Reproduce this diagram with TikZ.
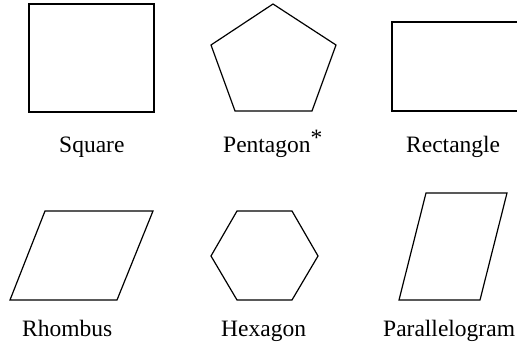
\documentclass[tikz,border=0pt]{standalone}
\usepackage{fontspec}
\setmainfont{Liberation Serif}
\begin{document}
\begin{tikzpicture}[x=1pt,y=-1pt,
  shape line/.style={draw=black,line width=1.2pt,line join=miter},
  lbl/.style={inner sep=0pt,anchor=base west,font=\fontsize{23.5pt}{28pt}\selectfont}]
\useasboundingbox (0,0) rectangle (517,347);
% Square
\draw[shape line] (29,4) rectangle (154,112);
\node[lbl] (sq) at (59,153) {Square};
% Pentagon
\draw[shape line] (273,4) -- (336,45) -- (312,111) -- (235,111) -- (211,45) -- cycle;
\node[lbl] (pe) at (223,153) {Pentagon\raisebox{7pt}{*}};
% Rectangle
\draw[shape line] (392,22) rectangle (518,111);
\node[lbl] (re) at (406,153) {Rectangle};
% Rhombus
\draw[shape line] (45,211) -- (153,211) -- (117,300) -- (10,300) -- cycle;
\node[lbl] (rh) at (22,337) {Rhombus};
% Hexagon
\draw[shape line] (237,211) -- (292,211) -- (318,256) -- (292,300) -- (237,300) -- (211,256) -- cycle;
\node[lbl] (he) at (221,337) {Hexagon};
% Parallelogram
\draw[shape line] (426,193) -- (507,193) -- (480,300) -- (399,300) -- cycle;
\node[lbl] (pa) at (383,337) {Parallelogram};
\end{tikzpicture}
\end{document}
